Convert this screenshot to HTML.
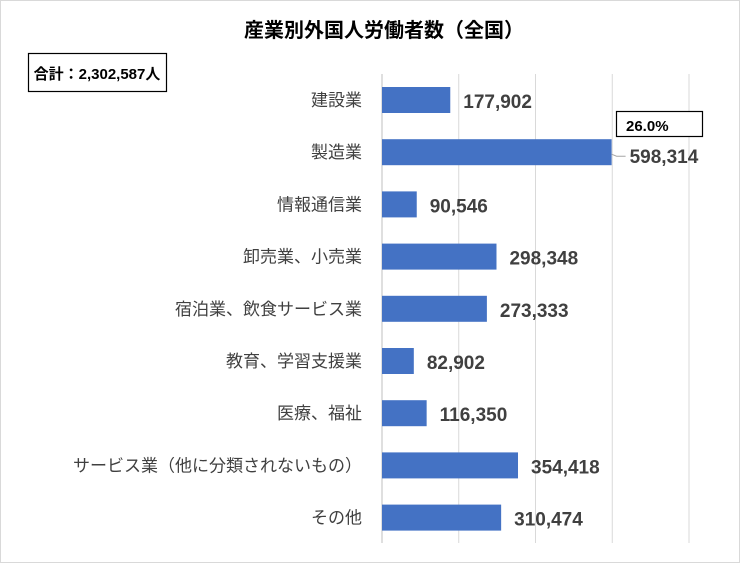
<!DOCTYPE html>
<html><head><meta charset="utf-8"><style>
html,body{margin:0;padding:0;background:#fff}
svg{display:block;font-family:"Liberation Sans","Noto Sans CJK JP",sans-serif}
</style></head><body>
<svg id="chart" width="740" height="563" viewBox="0 0 740 563">
<rect x="0.5" y="0.5" width="739" height="562" fill="#fff" stroke="#d9d9d9"/>
<text x="384" y="37" text-anchor="middle" font-size="20" font-weight="bold" fill="#000">産業別外国人労働者数（全国）</text>
<rect x="28.5" y="53.5" width="138" height="38" fill="#fff" stroke="#000" stroke-width="1.2"/>
<text x="97" y="79" text-anchor="middle" font-size="15" font-weight="bold" fill="#000">合計：2,302,587人</text>
<g id="grid"></g>
<g id="bars"></g>
<rect x="616.5" y="111.5" width="86" height="25" fill="#fff" stroke="#000" stroke-width="1.2"/>
<text x="626" y="131" font-size="15" font-weight="bold" fill="#000">26.0%</text>
</svg>
<script>
const categories=["建設業","製造業","情報通信業","卸売業、小売業","宿泊業、飲食サービス業","教育、学習支援業","医療、福祉","サービス業（他に分類されないもの）","その他"];
const values=[177902,598314,90546,298348,273333,82902,116350,354418,310474];
const gridTicks=[0,200000,400000,600000,800000];
const NS="http://www.w3.org/2000/svg";
const x0=382,x1=689,vmax=800000,plotTop=74,band=52.2,barH=26;
const xs=v=>x0+(v/vmax)*(x1-x0);
const ys=i=>plotTop+band*i;
const gEl=document.getElementById('grid'),bEl=document.getElementById('bars');
function mk(t,a,p){const e=document.createElementNS(NS,t);for(const k in a)e.setAttribute(k,a[k]);p.appendChild(e);return e;}
gridTicks.forEach(t=>{
  const l=mk('line',{x1:xs(t),x2:xs(t),y1:plotTop,y2:543,stroke:t===0?'#bfbfbf':'#d9d9d9','stroke-width':1},gEl);
  
  
});
categories.forEach((c,i)=>{
  const y=ys(i)+13;
  const r=mk('rect',{x:x0,y:y,width:xs(values[i])-x0,height:barH,fill:'#4472c4'},bEl);
  
  
  const cl=mk('text',{x:362,y:y+barH/2+6,'text-anchor':'end','font-size':17,fill:'#404040'},bEl);
  cl.textContent=c;
  
  
  const lx=xs(values[i])+(i===1?18:13);
  const vl=mk('text',{x:lx,y:y+barH/2+(i===1?11:8),'font-size':19,'font-weight':'bold',fill:'#404040'},bEl);
  vl.textContent=values[i].toLocaleString('en-US');
  
  
  if(i===1){
    const ll=mk('path',{d:`M${xs(values[i])} ${y+barH/2+2} L${xs(values[i])+5} ${y+barH/2+4} L${xs(values[i])+14} ${y+barH/2+4}`,stroke:'#a6a6a6',fill:'none'},bEl);
    
    
  }
});
</script>
</body></html>
